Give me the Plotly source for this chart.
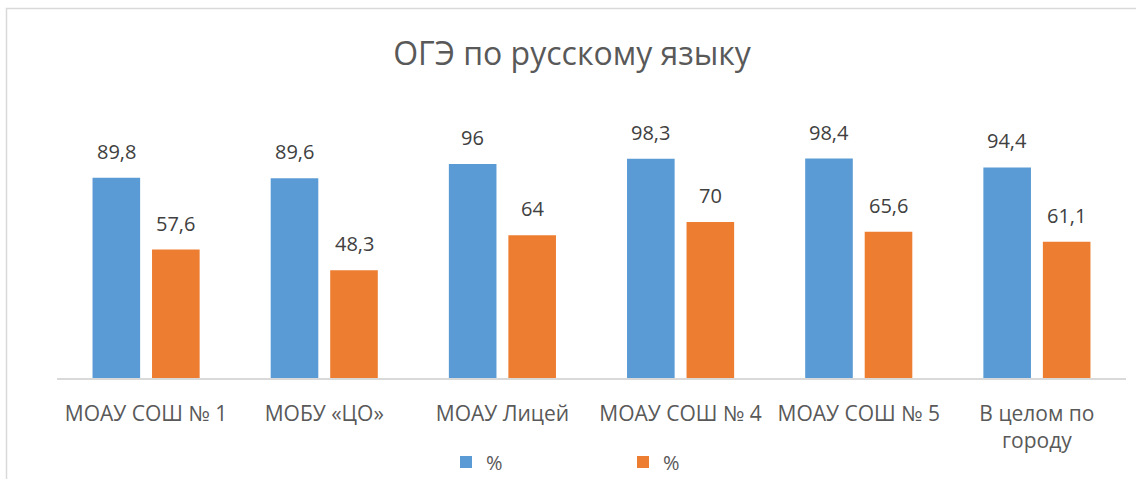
import plotly.graph_objects as go

categories = ["МОАУ СОШ № 1", "МОБУ «ЦО»", "МОАУ Лицей", "МОАУ СОШ № 4", "МОАУ СОШ № 5", "В целом по<br>городу"]
series1 = [89.8, 89.6, 96, 98.3, 98.4, 94.4]
series2 = [57.6, 48.3, 64, 70, 65.6, 61.1]
series_names = ["%", "%"]
colors = ["#5B9BD5", "#ED7D31"]

def fmt(v):
    return ("%g" % v).replace(".", ",")

fig = go.Figure()
for vals, name, col in zip([series1, series2], series_names, colors):
    fig.add_trace(go.Bar(x=categories, y=vals, name=name, marker_color=col, marker_line_width=0))

annotations = []
for vals, shift in zip([series1, series2], [-29.75, 29.75]):
    for c, v in zip(categories, vals):
        annotations.append(dict(x=c, y=v, xref="x", yref="y", text=fmt(v), showarrow=False,
                                xanchor="center", yanchor="bottom", xshift=shift, yshift=11,
                                font=dict(size=20, color="#404040")))

fig.update_layout(
    width=1136, height=479,
    margin=dict(l=57, r=10, t=155, b=101, pad=0, autoexpand=False),
    paper_bgcolor="white", plot_bgcolor="white",
    font=dict(family="Open Sans", color="#595959"),
    title=dict(text="ОГЭ по русскому языку", x=572 / 1136, xanchor="center", y=1 - 54 / 479, yanchor="middle",
               font=dict(size=32, color="#595959")),
    barmode="group", bargap=0.332, bargroupgap=0.2,
    showlegend=True,
    legend=dict(orientation="h", x=(446 - 57) / 1069, xanchor="left", y=-(462 - 378) / 223, yanchor="middle",
                entrywidth=132, entrywidthmode="pixels", font=dict(size=20, color="#595959"),
                bgcolor="rgba(0,0,0,0)"),
    xaxis=dict(showline=True, linecolor="#D9D9D9", linewidth=1.5, ticks="", showgrid=False,
               tickfont=dict(size=21, color="#595959"), ticklabelstandoff=16),
    yaxis=dict(range=[0, 100], visible=False, showgrid=False),
    annotations=annotations,
    shapes=[dict(type="rect", xref="paper", yref="paper", x0=(6.5 - 57) / 1069, x1=1.2, y0=-0.8,
                 y1=(378 - 8.5) / 223, line=dict(color="#D9D9D9", width=1.5), layer="below")],
)
fig.write_html("out.html", config={"displayModeBar": False},
               post_script=["document.body.style.margin='0px';"])
